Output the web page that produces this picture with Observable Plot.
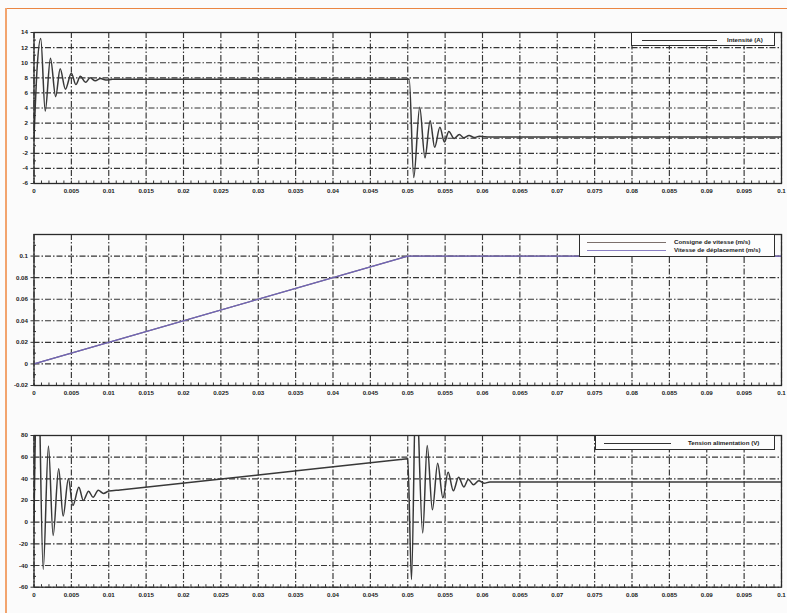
<!DOCTYPE html>
<html>
<head>
<meta charset="utf-8">
<script src="https://cdn.jsdelivr.net/npm/d3@7"></script>
<script src="https://cdn.jsdelivr.net/npm/@observablehq/plot@0.6"></script>
<style>
  body { margin: 0; background: #ffffff; }
  #page { position: relative; width: 787px; height: 613px; overflow: hidden; background: #fbfbfb; font-family: "Liberation Sans", Arial, sans-serif; }
  .edge-top { position: absolute; left: 5px; top: 8px; right: 0; border-top: 1.5px solid #ea8643; }
  .edge-left { position: absolute; left: 5px; top: 8px; bottom: 0; border-left: 2px solid #f2a46e; }
  .panel { position: absolute; left: 0; }
  .panel svg text { font-weight: bold; }
  .legend { position: absolute; box-sizing: border-box; border: 1.4px solid #2e2e2e; background: #fdfdfd; }
  .legend .row { position: absolute; left: 0; right: 0; height: 8px; }
  .legend .swatch { position: absolute; height: 0; }
  .legend .label { position: absolute; font-size: 6.2px; line-height: 8px; color: #1a1a1a; white-space: nowrap; font-weight: bold; }
</style>
</head>
<body>
<div id="page">
  <div class="edge-top"></div>
  <div class="edge-left"></div>
</div>
<script>
// ---- time axis (s) ----
const xTicks = [0, 0.005, 0.01, 0.015, 0.02, 0.025, 0.03, 0.035, 0.04, 0.045, 0.05,
                0.055, 0.06, 0.065, 0.07, 0.075, 0.08, 0.085, 0.09, 0.095, 0.1];
const xMinor = d3.range(0, 0.1001, 0.001);

// ---- motor current (A) ----
const tCurrent = [0, 0.0004, 0.0009, 0.0015, 0.0022, 0.0029, 0.0035, 0.0042, 0.0050, 0.0056,
                  0.0062, 0.0069, 0.0075, 0.0082, 0.0089, 0.0096, 0.0105, 0.0502, 0.0508, 0.0516,
                  0.0523, 0.0530, 0.0536, 0.0543, 0.0549, 0.0555, 0.0562, 0.0569, 0.0575, 0.0582,
                  0.0589, 0.0596, 0.0610, 0.1];
const iCurrent = [0, 9.0, 13.2, 3.6, 10.6, 5.5, 9.2, 6.5, 8.6, 7.1,
                  8.2, 7.4, 8.0, 7.6, 7.9, 7.7, 7.8, 7.8, -5.2, 4.1,
                  -2.6, 2.3, -1.2, 1.45, -0.5, 0.9, -0.05, 0.5, 0.05, 0.35,
                  0.1, 0.25, 0.15, 0.15];
const yTicksCurrent = [-6, -4, -2, 0, 2, 4, 6, 8, 10, 12, 14];

// ---- speed (m/s) ----
const tSpeed = [0, 0.05, 0.1];
const speedSetpoint = [0, 0.1, 0.1];
const speedMeasured = [0, 0.1, 0.1];
const yTicksSpeed = [-0.02, 0, 0.02, 0.04, 0.06, 0.08, 0.1];

// ---- supply voltage (V) ----
const tVoltage = [0, 0.0005, 0.00123, 0.00193, 0.00256, 0.0033, 0.0039, 0.0046, 0.0052, 0.0060,
                  0.0066, 0.0073, 0.0079, 0.0086, 0.0093, 0.0100, 0.0115, 0.0300, 0.0490, 0.0500,
                  0.0505, 0.0511, 0.0520, 0.0526, 0.0533, 0.0540, 0.0547, 0.0554, 0.0561, 0.0568,
                  0.0575, 0.0581, 0.0588, 0.0595, 0.0602, 0.0610, 0.1];
const vVoltage = [0, 160, -43.6, 70.3, -12.3, 49.2, 5.6, 40, 15.4, 32.3,
                  20, 28.6, 23, 29.5, 26.5, 28.7, 29.8, 43.6, 57.8, 58.5,
                  -53, 130, -10, 70.8, 11.4, 54.5, 22.5, 46, 29, 41.5,
                  32.5, 39.5, 34.5, 38.3, 36, 37, 37];
const yTicksVoltage = [-60, -40, -20, 0, 20, 40, 60, 80];

const rows = (xs, ys) => xs.map((t, k) => ({t, v: ys[k]}));
const fmt = d => String(+d.toFixed(3)).replace("\u2212", "-");
const ink = "#383838";
const gridStyle = {stroke: "#353535", strokeOpacity: 1, strokeWidth: 1.15, strokeDasharray: "6,2,1.5,2"};

function panel({top, height, marginTop, marginBottom, yDomain, yTicks, yMinor, marks}) {
  const svg = Plot.plot({
    width: 787, height, marginLeft: 33.5, marginRight: 6, marginTop, marginBottom,
    style: {background: "transparent", fontFamily: "Liberation Sans, Arial, sans-serif", fontSize: "6.2px", color: "#1c1c1c"},
    x: {domain: [0, 0.1], label: null},
    y: {domain: yDomain, label: null},
    marks: [
      Plot.gridX(xTicks, gridStyle),
      Plot.gridY(yTicks, gridStyle),
      Plot.axisX(xMinor, {tickSize: -2.5, text: null, label: null, stroke: "#333"}),
      Plot.axisX(xTicks, {tickSize: 0, tickPadding: 5, tickFormat: fmt, label: null}),
      Plot.axisY(yMinor, {tickSize: -2.5, text: null, label: null, stroke: "#333"}),
      Plot.axisY(yTicks, {tickSize: 3, tickPadding: 3, tickFormat: fmt, label: null, stroke: "#333"}),
      ...marks,
      Plot.frame({stroke: "#2a2a2a", strokeWidth: 1.3})
    ]
  });
  const div = document.createElement("div");
  div.className = "panel";
  div.style.top = top + "px";
  div.appendChild(svg);
  document.getElementById("page").appendChild(div);
}

function legend({left, top, width, height, entries}) {
  const box = document.createElement("div");
  box.className = "legend";
  Object.assign(box.style, {left: left + "px", top: top + "px", width: width + "px", height: height + "px"});
  for (const e of entries) {
    const row = document.createElement("div");
    row.className = "row";
    row.style.top = e.y + "px";
    const sw = document.createElement("div");
    sw.className = "swatch";
    Object.assign(sw.style, {left: e.x1 + "px", width: (e.x2 - e.x1) + "px", top: "4px", borderTop: `1.3px solid ${e.color}`});
    const lab = document.createElement("div");
    lab.className = "label";
    lab.style.left = e.tx + "px";
    lab.textContent = e.text;
    row.append(sw, lab);
    box.appendChild(row);
  }
  document.getElementById("page").appendChild(box);
}

// Current
panel({
  top: 0, height: 200, marginTop: 32, marginBottom: 17,
  yDomain: [-6, 14], yTicks: yTicksCurrent, yMinor: d3.range(-5, 14, 2),
  marks: [Plot.line(rows(tCurrent, iCurrent), {x: "t", y: "v", stroke: ink, strokeWidth: 1.5, curve: "monotone-x", clip: true})]
});
legend({left: 631, top: 32, width: 144, height: 14,
  entries: [{y: 2.5, x1: 10, x2: 85, tx: 95, color: "#333", text: "Intensité (A)"}]});

// Speed
panel({
  top: 200, height: 210, marginTop: 34, marginBottom: 25,
  yDomain: [-0.02, 0.12], yTicks: yTicksSpeed, yMinor: d3.range(-0.01, 0.12, 0.02),
  marks: [
    Plot.line(rows(tSpeed, speedSetpoint), {x: "t", y: "v", stroke: "#7c706c", strokeWidth: 1.2, clip: true}),
    Plot.line(rows(tSpeed, speedMeasured), {x: "t", y: "v", stroke: "#6f63b8", strokeWidth: 1.2, clip: true})
  ]
});
legend({left: 579, top: 234, width: 196, height: 23,
  entries: [
    {y: 2.5, x1: 7, x2: 86, tx: 94, color: "#7c706c", text: "Consigne de vitesse (m/s)"},
    {y: 10.5, x1: 7, x2: 86, tx: 94, color: "#8a80c4", text: "Vitesse de déplacement (m/s)"}
  ]});

// Voltage
panel({
  top: 410, height: 203, marginTop: 25, marginBottom: 26.3,
  yDomain: [-60, 80], yTicks: yTicksVoltage, yMinor: d3.range(-50, 80, 20),
  marks: [Plot.line(rows(tVoltage, vVoltage), {x: "t", y: "v", stroke: ink, strokeWidth: 1.5, curve: "monotone-x", clip: true})]
});
legend({left: 595, top: 435, width: 180, height: 15,
  entries: [{y: 3, x1: 8, x2: 75, tx: 92, color: "#333", text: "Tension alimentation (V)"}]});
</script>
</body>
</html>
